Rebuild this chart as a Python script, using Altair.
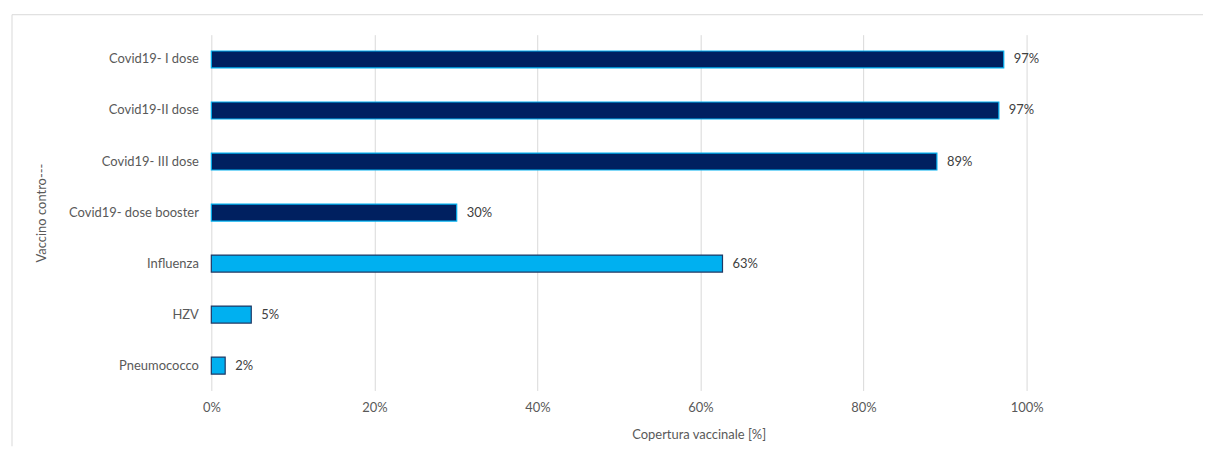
import altair as alt
import pandas as pd

categories = ["Covid19- I dose", "Covid19-II dose", "Covid19- III dose",
              "Covid19- dose booster", "Influenza", "HZV", "Pneumococco"]
values = [97.2, 96.6, 89.0, 30.1, 62.7, 4.9, 1.7]
groups = ["Covid", "Covid", "Covid", "Covid", "Altro", "Altro", "Altro"]

df = pd.DataFrame({"cat": categories, "val": values, "grp": groups})
df["lab"] = df["val"].round(0).astype(int).astype(str) + "%"

FONT = "Lato"
FS = 13
W, H = 818, 357

y_enc = alt.Y("cat:N", sort=categories,
              scale=alt.Scale(paddingInner=0.667, paddingOuter=0.32),
              axis=alt.Axis(title="Vaccino contro---", labelFont=FONT, labelFontSize=FS,
                            labelColor="#595959", titleFont=FONT, titleFontSize=FS,
                            titleColor="#595959", titleFontWeight="normal",
                            titlePadding=20, labelPadding=13, ticks=False,
                            domain=False, grid=False))

x_enc = alt.X("val:Q", scale=alt.Scale(domain=[0, 100], nice=False),
              axis=alt.Axis(title="Copertura vaccinale [%]", values=[0, 20, 40, 60, 80, 100],
                            labelExpr="datum.value + '%'", labelFont=FONT, labelFontSize=FS,
                            labelColor="#595959", titleFont=FONT, titleFontSize=FS,
                            titleColor="#595959", titleFontWeight="normal",
                            labelFlush=False,
                            titleX=489, titlePadding=14, labelPadding=11, ticks=False,
                            domain=False, grid=True, gridColor="#d9d9d9"))

bars = alt.Chart(df).mark_bar(strokeWidth=1.2).encode(
    x=x_enc, y=y_enc,
    color=alt.Color("grp:N", scale=alt.Scale(domain=["Covid", "Altro"],
                                             range=["#002060", "#00B0F0"]), legend=None),
    stroke=alt.Stroke("grp:N", scale=alt.Scale(domain=["Covid", "Altro"],
                                               range=["#00B0F0", "#1F3864"]), legend=None),
)

text = alt.Chart(df).mark_text(align="left", dx=10, font=FONT, fontSize=FS,
                               color="#404040").encode(
    x="val:Q", y=alt.Y("cat:N", sort=categories), text="lab:N")

frame_top = alt.Chart(pd.DataFrame({"a": [0]})).mark_rule(color="#d9d9d9").encode(
    x=alt.value(-200), x2=alt.value(995), y=alt.value(-20))
frame_left = alt.Chart(pd.DataFrame({"a": [0]})).mark_rule(color="#d9d9d9").encode(
    x=alt.value(-200), y=alt.value(-20), y2=alt.value(413))

chart = alt.layer(frame_top, frame_left, bars, text).properties(
    width=W, height=H, padding={"left": 3, "top": 5, "right": 0, "bottom": 0},
    background="white"
).configure_view(stroke=None)

chart.save("out.html", embed_options={"renderer": "svg", "actions": False})
